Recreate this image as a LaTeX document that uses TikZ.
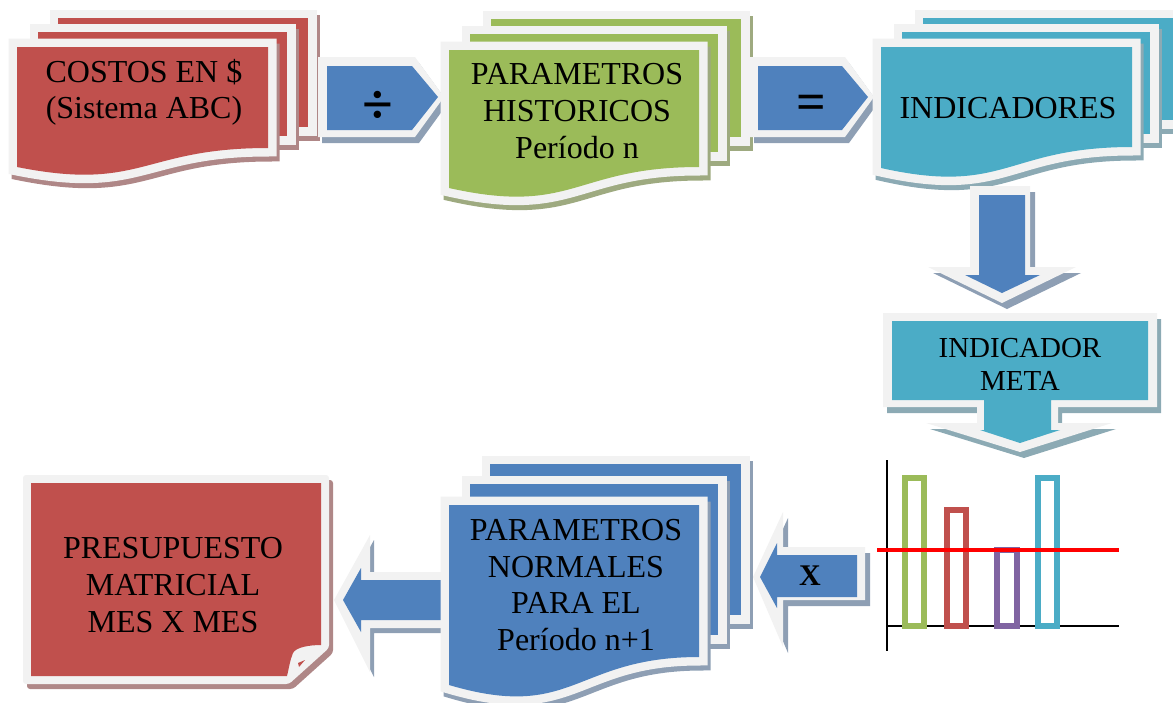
\documentclass[tikz,border=0pt]{standalone}
\usepackage{fontspec}
\setmainfont{Liberation Serif}
\definecolor{wh}{RGB}{242,242,242}
\definecolor{cred}{RGB}{192,80,77}
\definecolor{cgreen}{RGB}{155,187,89}
\definecolor{ccyan}{RGB}{75,172,198}
\definecolor{cblue}{RGB}{79,129,189}
\definecolor{cpurple}{RGB}{128,100,162}
\definecolor{shred}{RGB}{175,135,135}
\definecolor{shgreen}{RGB}{158,170,128}
\definecolor{shcyan}{RGB}{140,170,180}
\definecolor{shblue}{RGB}{142,159,180}
\newcommand\pagelayer[6]{%
  \path[shd=#6,shift={(3,5)}] (#1,#2) rectangle (#3,#4);
  \path[wb] (#1,#2) rectangle (#3,#4);
  \path[fill=#5] (#1,#2) rectangle (#3,#4);
}
\newcommand\frontpage[9]{%
  \path[shd=#9,shift={(3,5)}] (#1,#2) -- (#3,#2) -- (#3,#4) .. controls (#6,#4) and (#6,#7) .. (#1,#5) -- cycle;
  \path[wb] (#1,#2) -- (#3,#2) -- (#3,#4) .. controls (#6,#4) and (#6,#7) .. (#1,#5) -- cycle;
  \path[fill=#8] (#1,#2) -- (#3,#2) -- (#3,#4) .. controls (#6,#4) and (#6,#7) .. (#1,#5) -- cycle;
}
\begin{document}
\begin{tikzpicture}[x=1pt,y=-1pt,
  wb/.style={fill=wh,draw=wh,line width=17pt,line join=miter},
  shd/.style={fill=#1,draw=#1,line width=17pt,line join=miter},
  lbl/.style={font=\fontsize{32}{37}\selectfont,anchor=base,inner sep=0pt},
  mlbl/.style={font=\fontsize{29}{33}\selectfont,anchor=base,inner sep=0pt},
  bar/.style={line width=6pt,draw=#1},
]
\useasboundingbox (0,0) rectangle (1173,702);

% ---- COSTOS (red multidocument)
\pagelayer{58}{18}{308}{127}{cred}{shred}
\pagelayer{38}{32}{287}{136}{cred}{shred}
\frontpage{17}{47}{268}{148}{167}{142}{192}{cred}{shred}
\node[lbl] (c1) at (144,82) {COSTOS EN \$};
\node[lbl] (c2) at (144,118) {(Sistema ABC)};

% ---- divide arrow
\path[fill=shblue,shift={(4,6)}] (318,57) -- (415,57) -- (444,97) -- (415,137) -- (318,137) -- cycle;
\path[fill=wh] (318,57) -- (415,57) -- (444,97) -- (415,137) -- (318,137) -- cycle;
\path[fill=cblue] (327,66) -- (412,66) -- (438,97) -- (412,130) -- (327,130) -- cycle;
\node[font=\fontsize{56}{56}\selectfont\bfseries,inner sep=0pt] (div) at (378,107) {÷};

% ---- PARAMETROS HISTORICOS (green)
\pagelayer{491}{19}{741}{137}{cgreen}{shgreen}
\pagelayer{470}{34}{718}{152}{cgreen}{shgreen}
\frontpage{449}{50}{699}{167}{188}{574}{216}{cgreen}{shgreen}
\node[lbl] (h1) at (577,84) {PARAMETROS};
\node[lbl] (h2) at (577,121) {HISTORICOS};
\node[lbl] (h3) at (577,158) {Período n};

% ---- equals arrow
\path[fill=shblue,shift={(4,6)}] (750,57) -- (845,57) -- (874,97) -- (845,137) -- (750,137) -- cycle;
\path[fill=wh] (750,57) -- (845,57) -- (874,97) -- (845,137) -- (750,137) -- cycle;
\path[fill=cblue] (758,66) -- (842,66) -- (868,97) -- (842,130) -- (758,130) -- cycle;
\node[font=\fontsize{52}{52}\selectfont\bfseries,inner sep=0pt] (eq) at (811,107) {=};

% ---- INDICADORES (cyan)
\pagelayer{923}{18}{1200}{120}{ccyan}{shcyan}
\pagelayer{902}{32}{1150}{134}{ccyan}{shcyan}
\frontpage{881}{47}{1132}{147}{168}{1006}{196}{ccyan}{shcyan}
\node[lbl] (ind) at (1008,118) {INDICADORES};

% ---- down arrow
\path[fill=shblue,shift={(5,6)}] (970,186) -- (1030,186) -- (1030,267) -- (1076,267) -- (1002,303) -- (928,267) -- (970,267) -- cycle;
\path[fill=wh] (970,186) -- (1030,186) -- (1030,267) -- (1076,267) -- (1002,303) -- (928,267) -- (970,267) -- cycle;
\path[fill=cblue] (979,195) -- (1025,195) -- (1025,275) -- (1040,275) -- (1002,293) -- (965,275) -- (979,275) -- cycle;

% ---- INDICADOR META callout
\path[fill=shcyan,shift={(4,6)}] (883,313) -- (1157,313) -- (1157,407) -- (1058,407) -- (1058,423) -- (1112,423) -- (1020,452) -- (926,423) -- (977,423) -- (977,407) -- (883,407) -- cycle;
\path[fill=wh] (883,313) -- (1157,313) -- (1157,407) -- (1058,407) -- (1058,423) -- (1112,423) -- (1020,452) -- (926,423) -- (977,423) -- (977,407) -- (883,407) -- cycle;
\path[fill=ccyan] (892,321) -- (1148,321) -- (1148,400) -- (1051,400) -- (1051,430) -- (1060,430) -- (1020,443) -- (980,430) -- (984,430) -- (984,400) -- (892,400) -- cycle;
\node[mlbl] (m1) at (1020,357) {INDICADOR};
\node[mlbl] (m2) at (1020,390) {META};

% ---- chart
\draw[line width=2pt] (887,460) -- (887,651);
\draw[line width=2pt] (887,626) -- (1119,626);
\path[bar=cgreen] (905,478) rectangle (924,626);
\path[bar=cred] (947,510) rectangle (966,626);
\path[bar=cpurple] (997,550) rectangle (1017,626);
\path[bar=ccyan] (1038,478) rectangle (1057,626);
\draw[line width=4pt,red] (877,550) -- (1119,550);

% ---- left arrow to PRESUPUESTO
\path[fill=shblue,shift={(4,5)}] (334,600) -- (370,535) -- (370,572) -- (448,572) -- (448,628) -- (370,628) -- (370,672) -- cycle;
\path[fill=wh] (334,600) -- (370,535) -- (370,572) -- (448,572) -- (448,628) -- (370,628) -- (370,672) -- cycle;
\path[fill=cblue] (343,600) -- (361,568) -- (361,580) -- (441,580) -- (441,620) -- (361,620) -- (361,632) -- cycle;

% ---- PARAMETROS NORMALES (blue)
\pagelayer{490}{464}{741}{615}{cblue}{shblue}
\pagelayer{470}{484}{718}{635}{cblue}{shblue}
\frontpage{449}{505}{699}{657}{685}{574}{722}{cblue}{shblue}
\node[lbl] (n1) at (576,540) {PARAMETROS};
\node[lbl] (n2) at (576,577) {NORMALES};
\node[lbl] (n3) at (576,613) {PARA EL};
\node[lbl] (n4) at (576,650) {Período n+1};

% ---- X arrow
\path[fill=shblue,shift={(5,6)}] (753,577) -- (783,512) -- (783,547) -- (865,547) -- (865,600) -- (783,600) -- (783,647) -- cycle;
\path[fill=wh] (753,577) -- (783,512) -- (783,547) -- (865,547) -- (865,600) -- (783,600) -- (783,647) -- cycle;
\path[fill=cblue] (760,577) -- (777,543) -- (777,555) -- (857,555) -- (857,597) -- (777,597) -- (777,608) -- cycle;
\node[font=\fontsize{30}{30}\selectfont\bfseries,anchor=base,inner sep=0pt] (xx) at (810,585) {X};

% ---- PRESUPUESTO (red page with curled corner)
\path[fill=shred,shift={(4,5)},rounded corners=3pt] (23,475) -- (329,475) -- (329,648) -- (289,684) -- (23,684) -- cycle;
\path[fill=wh,rounded corners=3pt] (23,475) -- (329,475) -- (329,648) -- (289,684) -- (23,684) -- cycle;
\path[fill=cred] (31,483) -- (321,483) -- (321,645) .. controls (310,645) and (296,647) .. (293,653) .. controls (290,660) and (289,668) .. (287,676) -- (31,676) -- cycle;
\path[fill=cred] (298,663) -- (305,660) -- (299,667) -- cycle;
\node[lbl] (p1) at (173,558) {PRESUPUESTO};
\node[lbl] (p2) at (173,595) {MATRICIAL};
\node[lbl] (p3) at (173,632) {MES X MES};
\end{tikzpicture}
\end{document}
